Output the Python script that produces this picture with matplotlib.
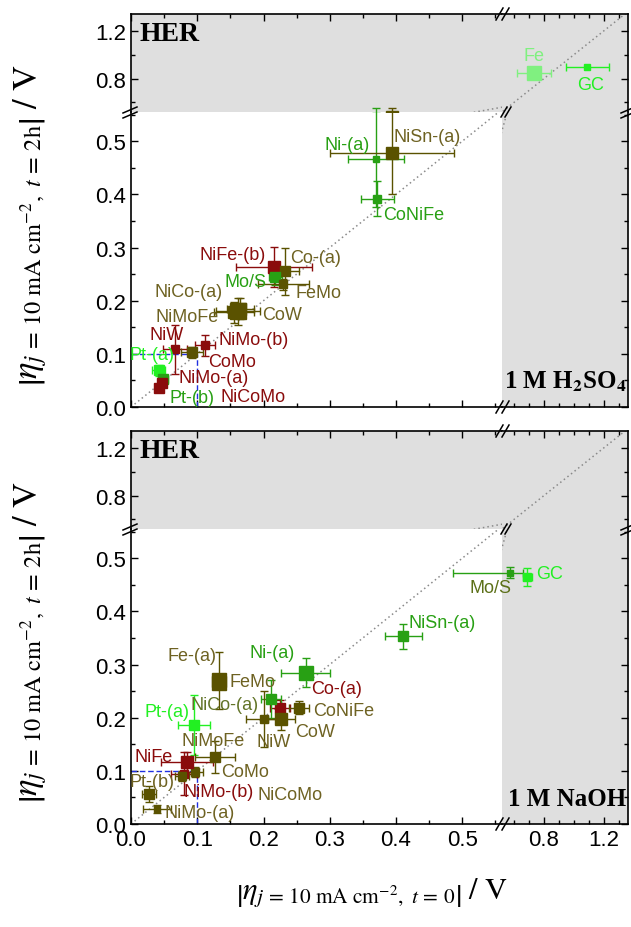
import matplotlib.pyplot as plt
from matplotlib.lines import Line2D
from matplotlib.ticker import MultipleLocator, FixedLocator, NullFormatter

plt.rcParams['font.family'] = ['Liberation Sans', 'DejaVu Sans']
plt.rcParams['mathtext.fontset'] = 'stix'

W, H = 631, 928

# overpotential after 2 h vs initial overpotential, acid (1 M H2SO4)
acid_names = ['Ni-(a)', 'NiSn-(a)', 'CoNiFe', 'NiFe-(b)', 'Co-(a)', 'Mo/S', 'FeMo',
              'NiCo-(a)', 'NiMoFe', 'CoW', 'NiW', 'NiMo-(b)', 'CoMo', 'Pt-(a)',
              'Pt-(b)', 'NiMo-(a)', 'NiCoMo', 'Fe', 'GC']
acid_x = [0.370, 0.394, 0.372, 0.216, 0.233, 0.218, 0.230, 0.165, 0.155, 0.162,
          0.066, 0.112, 0.092, 0.042, 0.048, 0.047, 0.042, 0.733, 1.087]
acid_y = [0.467, 0.478, 0.392, 0.263, 0.255, 0.244, 0.231, 0.185, 0.178, 0.180,
          0.109, 0.116, 0.103, 0.069, 0.052, 0.045, 0.036, 0.850, 0.900]
acid_xerr = [0.042, 0.093, 0.025, 0.057, 0.020, 0.010, 0.038, 0.020, 0.030, 0.033,
             0.018, 0.015, 0.017, 0.010, 0.008, 0.006, 0.006, 0.113, 0.143]
acid_yerr = [0.090, 0.078, 0.033, 0.038, 0.045, 0.015, 0.010, 0.020, 0.020, 0.025,
             0.046, 0.020, 0.010, 0.010, 0.008, 0.008, 0.008, 0.0, 0.0]

# same quantities, alkaline (1 M NaOH)
base_names = ['Mo/S', 'GC', 'NiSn-(a)', 'Ni-(a)', 'Fe-(a)', 'FeMo', 'Co-(a)',
              'NiCo-(a)', 'CoNiFe', 'CoW', 'NiW', 'Pt-(a)', 'CoMo', 'NiMoFe',
              'NiFe', 'NiMo-(b)', 'NiCoMo', 'Pt-(b)', 'NiMo-(a)']
base_x = [0.573, 0.687, 0.411, 0.264, 0.133, 0.133, 0.225, 0.211, 0.254, 0.227,
          0.200, 0.095, 0.127, 0.097, 0.085, 0.080, 0.077, 0.027, 0.039]
base_y = [0.473, 0.465, 0.353, 0.285, 0.270, 0.266, 0.219, 0.235, 0.219, 0.197,
          0.197, 0.186, 0.126, 0.098, 0.116, 0.095, 0.090, 0.056, 0.028]
base_xerr = [0.087, 0.030, 0.028, 0.037, 0.0, 0.0, 0.015, 0.015, 0.015, 0.020,
             0.026, 0.024, 0.030, 0.012, 0.039, 0.020, 0.010, 0.010, 0.021]
base_yerr = [0.010, 0.017, 0.024, 0.028, 0.054, 0.0, 0.015, 0.035, 0.012, 0.020,
             0.053, 0.057, 0.030, 0.010, 0.019, 0.040, 0.010, 0.015, 0.008]

OLIVE = '#5a5200'
RED = '#8a0c0c'
GREEN = '#28a014'
LIME = '#22f022'
PALE = '#80f080'
OLTXT = '#6e6222'
GREY = '#dfdfdf'

acid_color = [GREEN, OLIVE, GREEN, RED, OLIVE, GREEN, OLIVE, OLIVE, OLIVE, OLIVE,
              RED, RED, OLIVE, LIME, GREEN, RED, RED, PALE, LIME]
acid_text = [GREEN, OLTXT, GREEN, RED, OLTXT, GREEN, OLTXT, OLTXT, OLTXT, OLTXT,
             RED, RED, RED, LIME, GREEN, RED, RED, PALE, LIME]
acid_ms = [5, 8, 6, 8.5, 6.5, 7, 5.5, 9, 9, 11, 6, 6, 6.5, 7, 7, 7, 7, 10, 5]
# label offsets from each marker, in pixels (right, up)
acid_lab = [(-29, 14), (35, 16), (36, -16), (-41, 13), (30, 14), (-30, -4), (35, -8),
            (-52, 17), (-47, -4), (44, -3), (-8, 15), (48, 6), (40, -9), (-7, 16),
            (29, -18), (51, 6), (94, -9), (0, 17), (4, -18)]

base_color = [GREEN, LIME, GREEN, GREEN, OLIVE, OLIVE, RED, GREEN, OLIVE, OLIVE,
              OLIVE, LIME, OLIVE, OLIVE, RED, RED, OLIVE, OLIVE, OLIVE]
base_text = ['#5c7018', LIME, GREEN, GREEN, OLTXT, OLTXT, RED, '#627428', OLTXT, OLTXT,
             OLTXT, LIME, OLTXT, OLTXT, RED, RED, OLTXT, OLTXT, OLTXT]
base_ms = [5, 5.5, 7, 10.5, 10.5, 10.5, 6.5, 7, 7, 8.5, 5.5, 6.5, 7, 5.5, 8.5, 5.5,
           6, 6.5, 5]
base_lab = [(-19, -15), (23, 3), (39, 14), (-34, 20), (-27, 25), (33, 1), (57, 19),
            (-46, -5), (44, -3), (34, -12), (10, -22), (-27, 14), (30, -14), (18, 31),
            (-34, 6), (35, -18), (108, -18), (3, 13), (43, -3)]

XL, XR = (0.0, 0.56), (0.52, 1.36)
YL, YU = (0.0, 0.555), (0.52, 1.34)

fig = plt.figure(figsize=(W / 100, H / 100), dpi=100)


def px_box(x0, y0, x1, y1):
    return [x0 / W, 1 - y1 / H, (x1 - x0) / W, (y1 - y0) / H]


def fig_line(xs, ys, **kw):
    fig.add_artist(Line2D([x / W for x in xs], [1 - y / H for y in ys],
                          color='k', lw=1.1, **kw))


def style(ax, sides):
    for s in ['left', 'right', 'top', 'bottom']:
        ax.spines[s].set_visible(s in sides)
        ax.spines[s].set_linewidth(1.2)
    ax.tick_params(which='both', direction='in', labelsize=16,
                   left='left' in sides, right='right' in sides,
                   top='top' in sides, bottom='bottom' in sides,
                   labelleft=False, labelright=False, labeltop=False, labelbottom=False)
    ax.tick_params(which='major', length=5, width=1)
    ax.tick_params(which='minor', length=3, width=1)


def make_panel(top, names, xs, ys, xerr, yerr, colors, tcolors, sizes, offsets,
               medium, xlabels):
    brk, bot = top + 98, top + 393
    ul = fig.add_axes(px_box(131, top, 502, brk), facecolor=GREY)
    ur = fig.add_axes(px_box(502, top, 628, brk), facecolor=GREY)
    lr = fig.add_axes(px_box(502, brk, 628, bot), facecolor=GREY)
    ll = fig.add_axes(px_box(131, brk, 502, bot), facecolor='none')
    ll.set_zorder(2)

    for ax, xl, yl in [(ul, XL, YU), (ur, XR, YU), (lr, XR, YL), (ll, XL, YL)]:
        ax.set_xlim(*xl)
        ax.set_ylim(*yl)
        if xl == XL:
            ax.xaxis.set_major_locator(MultipleLocator(0.1))
            ax.xaxis.set_minor_locator(MultipleLocator(0.05))
        else:
            ax.xaxis.set_major_locator(FixedLocator([0.8, 1.2]))
            ax.xaxis.set_minor_locator(MultipleLocator(0.1))
        if yl == YL:
            ax.yaxis.set_major_locator(MultipleLocator(0.1))
            ax.yaxis.set_minor_locator(MultipleLocator(0.05))
        else:
            ax.yaxis.set_major_locator(FixedLocator([0.8, 1.2]))
            ax.yaxis.set_minor_locator(FixedLocator([0.6, 1.0]))
        ax.xaxis.set_major_formatter(lambda v, p: f'{v:.1f}')
        ax.yaxis.set_major_formatter(lambda v, p: f'{v:.1f}')
        ax.xaxis.set_minor_formatter(NullFormatter())
        # parity line
        ax.plot([0, 1.4], [0, 1.4], ls=(0, (1, 2)), color='#8a8a8a', lw=1.1)

    style(ul, ['left', 'top'])
    style(ur, ['right', 'top'])
    style(lr, ['right', 'bottom'])
    style(ll, ['left', 'bottom'])
    ul.tick_params(labelleft=True)
    ll.tick_params(labelleft=True)
    if xlabels:
        ll.tick_params(labelbottom=True)
        lr.tick_params(labelbottom=True)

    # Pt reference box at 0.1 V
    ll.plot([0, 0.1], [0.1, 0.1], ls=(0, (4, 2)), color='#2030e0', lw=1)
    ll.plot([0.1, 0.1], [0, 0.1], ls=(0, (4, 2)), color='#2030e0', lw=1)

    for i, name in enumerate(names):
        x, y = xs[i], ys[i]
        for ax in (ul, ur, lr, ll):
            ax.errorbar(x, y, xerr=xerr[i] or None, yerr=yerr[i] or None,
                        fmt='s', ms=sizes[i], color=colors[i], mec=colors[i],
                        elinewidth=1, capsize=3, capthick=1, zorder=3)
        if y > YL[1]:
            home = ur if x > XL[1] else ul
        else:
            home = lr if x > XL[1] else ll
        dx, dy = offsets[i]
        home.annotate(name, (x, y), xytext=(dx * 0.72, dy * 0.72),
                      textcoords='offset points', ha='center', va='center',
                      fontsize=13, color=tcolors[i], annotation_clip=False, zorder=5)

    ul.text(0.022, 0.8, 'HER', transform=ul.transAxes, fontsize=20,
            fontweight='bold', family='Liberation Serif', va='center')
    fig.text(626 / W, 1 - (bot - 26) / H, medium, ha='right', va='center',
             fontsize=18, fontweight='bold', family='Liberation Serif', zorder=6)

    # axis-break marks
    for x0 in (130, 628):
        fig_line([x0 - 7, x0 + 7], [brk + 1, brk - 5])
        fig_line([x0 - 7, x0 + 7], [brk + 6, brk])
    for y0 in (top, bot):
        fig_line([496, 503], [y0 + 6, y0 - 6])
        fig_line([502, 509], [y0 + 6, y0 - 6])
    fig_line([501, 507], [brk + 5, brk - 5])
    fig_line([505, 511], [brk + 5, brk - 5])

    ylab = (r'$\left|\eta_{j\,=\,10\ \mathrm{mA\ cm}^{-2},\ t\,=\,2\mathrm{h}}\right|'
            r'\ /\ \mathrm{V}$')
    fig.text(30 / W, 1 - (top + 210) / H, ylab, rotation=90, ha='center',
             va='center', fontsize=25)


make_panel(15, acid_names, acid_x, acid_y, acid_xerr, acid_yerr, acid_color,
           acid_text, acid_ms, acid_lab, r'1 M H$_\mathbf{2}$SO$_\mathbf{4}$', False)
make_panel(432, base_names, base_x, base_y, base_xerr, base_yerr, base_color,
           base_text, base_ms, base_lab, '1 M NaOH', True)

fig.text(372 / W, 1 - 893 / H,
         r'$\left|\eta_{j\,=\,10\ \mathrm{mA\ cm}^{-2},\ t\,=\,0}\right|\ /\ \mathrm{V}$',
         ha='center', va='center', fontsize=22)

fig.savefig('out.png', dpi=100)
